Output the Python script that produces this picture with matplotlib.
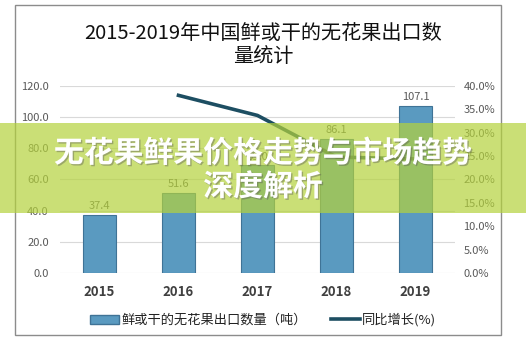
import matplotlib
matplotlib.use('Agg')
import matplotlib.pyplot as plt
import matplotlib.patheffects as pe
from matplotlib.patches import Rectangle
from matplotlib.lines import Line2D
import matplotlib.ticker as mtick

plt.rcParams['font.family'] = ['Noto Sans CJK SC', 'DejaVu Sans']

BAR = '#5A9AC0'
BAR_EDGE = '#3F7396'
LINE = '#1D4E62'
GREY = '#595959'

years = ['2015', '2016', '2017', '2018', '2019']
export_tons = [37.4, 51.6, 69.0, 86.1, 107.1]
growth_years = ['2016', '2017', '2018', '2019']
growth_pct = [38.0, 33.7, 24.8, 24.4]

title = '2015-2019年中国鲜或干的无花果出口数\n量统计'
banner = '无花果鲜果价格走势与市场趋势\n深度解析'
bar_label = '鲜或干的无花果出口数量（吨）'
line_label = '同比增长(%)'

fig = plt.figure(figsize=(5.26, 3.44), dpi=100)
fig.patch.set_facecolor('white')

# outer frame
fig.patches.append(Rectangle((15/526, 9/344), 486/526, 330/344, transform=fig.transFigure,
                             fill=False, edgecolor='#8C8C8C', linewidth=1.0))

fig.text(0.5, 0.87, title, ha='center', va='center', fontsize=14.5,
         linespacing=1.1, color='#111111')

ax = fig.add_axes([0.114, 0.2064, 0.751, 0.5436])
x = list(range(len(years)))
ax.bar(x, export_tons, width=0.41, color=BAR, edgecolor=BAR_EDGE, linewidth=0.8, zorder=3)
for xi, v in zip(x, export_tons):
    ax.text(xi, v + 2.5, f'{v:.1f}', ha='center', va='bottom', fontsize=8, color=GREY)

ax.set_xlim(-0.5, 4.5)
ax.set_ylim(0, 120)
ax.set_yticks(range(0, 121, 20))
ax.yaxis.set_major_formatter(mtick.FormatStrFormatter('%.1f'))
ax.set_xticks(x)
ax.set_xticklabels(years, fontsize=9.5, fontweight='bold', color='#404040')
ax.tick_params(axis='y', labelsize=8, labelcolor=GREY, length=0, pad=8)
ax.tick_params(axis='x', length=0, pad=9)
ax.grid(axis='y', color='#D9D9D9', linewidth=0.8, zorder=0)
for s in ax.spines.values():
    s.set_visible(False)

ax2 = ax.twinx()
gx = [years.index(y) for y in growth_years]
ax2.plot(gx, growth_pct, color=LINE, linewidth=2.6, zorder=4)
ax2.set_ylim(0, 40)
ax2.set_yticks(range(0, 41, 5))
ax2.yaxis.set_major_formatter(mtick.FormatStrFormatter('%.1f%%'))
ax2.tick_params(axis='y', labelsize=8, labelcolor=GREY, length=0, pad=6)
for s in ax2.spines.values():
    s.set_visible(False)

handles = [Rectangle((0, 0), 1, 1, facecolor=BAR, edgecolor=BAR_EDGE),
           Line2D([0], [0], color=LINE, linewidth=2.6)]
fig.legend(handles, [bar_label, line_label], loc='center', bbox_to_anchor=(0.5, 0.07),
           ncol=2, frameon=False, fontsize=9.5, handlelength=2.2, columnspacing=1.8,
           handletextpad=0.2, labelcolor='#222222')

# banner overlay
fig.patches.append(Rectangle((0, 1 - 213/344), 1, 90/344, transform=fig.transFigure,
                             facecolor='#B4D23C', alpha=0.7, edgecolor='none', zorder=10))
fig.text(0.5, 1 - 170/344, banner, ha='center', va='center', fontsize=21.5, fontweight='bold',
         color='white', linespacing=1.15, zorder=11,
         path_effects=[pe.withSimplePatchShadow(offset=(1, -1), shadow_rgbFace='#555555', alpha=0.4)])

fig.savefig('out.png', dpi=100)
